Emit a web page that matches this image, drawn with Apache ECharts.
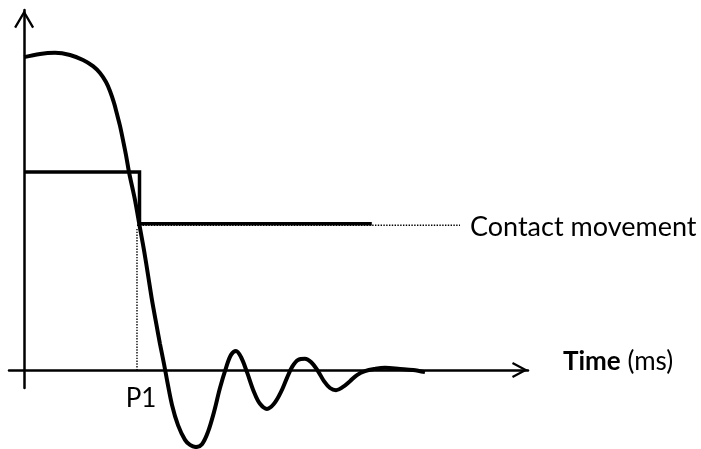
<!DOCTYPE html>
<html>
<head>
<meta charset="utf-8">
<script src="https://cdn.jsdelivr.net/npm/echarts@6/dist/echarts.min.js"></script>
<style>
  html, body { margin: 0; padding: 0; background: #fff; }
  #chart { width: 701px; height: 449px; }
</style>
</head>
<body>
<div id="chart"></div>
<script>
// Time axis in ms (arbitrary units), amplitude in arbitrary units.
const timeMs = [0, 3.15, 6.13, 9.11, 11.69, 13.67, 15.06, 16.25, 17.04, 17.84, 18.43, 19.03,
  19.62, 20.22, 20.81, 21.41, 22.01, 23.0, 23.79, 24.59, 25.38, 26.17, 26.97, 27.76, 28.36,
  29.35, 30.54, 31.93, 32.92, 34.11, 35.3, 36.49, 37.68, 38.87, 40.07, 41.06, 42.05, 43.04,
  44.23, 45.62, 46.81, 48.2, 49.59, 50.98, 52.17, 53.16, 54.35, 55.74, 56.93, 58.32, 59.51,
  60.71, 61.9, 63.28, 64.67, 66.06, 67.65, 69.64, 71.62, 74.6, 77.18, 79.56];
const bounce = [86.9, 87.8, 88.1, 87.5, 86.1, 84.4, 82.5, 80.0, 77.5, 74.2, 71.1, 67.8,
  63.9, 59.7, 55.0, 51.1, 47.2, 39.4, 33.3, 26.4, 19.4, 13.3, 7.2, 1.7, -2.8,
  -9.7, -15.3, -19.4, -20.8, -21.4, -20.6, -17.2, -11.7, -5.0, 0.6, 4.2, 5.3, 3.6,
  -0.6, -6.1, -9.4, -10.8, -9.4, -6.1, -2.2, 0.8, 2.8, 3.1, 2.2, -0.3, -3.1,
  -5.0, -5.6, -4.7, -3.1, -1.4, -0.3, 0.3, 0.6, 0.3, 0, -0.6];

// Contact movement step: high level, drop at P1, low level
const stepTime = [0, 22.9, 22.9, 69.0];
const stepLevel = [55.0, 55.0, 40.6, 40.6];

// P1 marker and leader line to the annotation
const p1Time = 22.4;
const leaderLevel = 40.2;
const leaderEnd = 86.5;
const p1Label = 'P1';
const contactLabel = 'Contact movement';

const zip = (a, b) => a.map((x, i) => [x, b[i]]);

const FONT = 'Lato';
const FS = 27;
const textStyle = { color: '#000000', fontFamily: FONT, fontSize: FS, opacity: 1 };

const chart = echarts.init(document.getElementById('chart'), null, { renderer: 'canvas' });

chart.setOption({
  animation: false,
  backgroundColor: '#ffffff',
  grid: { left: 9, right: 173, top: 10, bottom: 61, containLabel: false },
  xAxis: {
    type: 'value',
    min: -3,
    max: 100,
    name: '{b|Time} (ms)',
    nameLocation: 'end',
    nameGap: 35,
    nameTextStyle: Object.assign({}, textStyle, {
      fontSize: 26,
      padding: [0, 0, 16, 0],
      rich: { b: Object.assign({}, textStyle, { fontSize: 26, fontWeight: 'bold' }) }
    }),
    axisLine: {
      show: true,
      onZero: true,
      lineStyle: { color: '#000', width: 2.5 },
      symbol: ['none', 'path://M8,0 L16,15 L14.06,16.03 L8,4.7 L1.94,16.03 L0,15 Z'],
      symbolSize: [16, 16.03],
      symbolOffset: [0, -8]
    },
    axisTick: { show: false },
    axisLabel: { show: false },
    splitLine: { show: false }
  },
  yAxis: {
    type: 'value',
    min: -5,
    max: 100,
    axisLine: {
      show: true,
      onZero: true,
      lineStyle: { color: '#000', width: 2.5 },
      symbol: ['none', 'path://M10,0 L20,17 L18.02,18.17 L10,4.5 L1.98,18.17 L0,17 Z'],
      symbolSize: [20, 18.17],
      symbolOffset: [0, -9.08]
    },
    axisTick: { show: false },
    axisLabel: { show: false },
    splitLine: { show: false }
  },
  series: [
    {
      // dotted leader from P1 to the annotation text
      type: 'line',
      data: [[p1Time, leaderLevel], [leaderEnd, leaderLevel]],
      symbol: 'none',
      lineStyle: { color: '#000', width: 1.4, type: [1.4, 1.4] },
      z: 1
    },
    {
      // dotted drop line at P1
      type: 'line',
      data: [[p1Time, leaderLevel - 1], [p1Time, 0]],
      symbol: 'none',
      lineStyle: { color: '#000', width: 1.4, type: [1.4, 1.4] },
      z: 1
    },
    {
      type: 'line',
      data: zip(stepTime, stepLevel),
      symbol: 'none',
      lineStyle: { color: '#000', width: 3.5, join: 'miter' },
      z: 3
    },
    {
      type: 'line',
      data: zip(timeMs, bounce),
      symbol: 'none',
      smooth: 0.35,
      clip: false,
      lineStyle: { color: '#000', width: 4 },
      z: 4
    },
    {
      // text annotations anchored to the leader end and the P1 foot
      type: 'scatter',
      symbol: 'circle',
      symbolSize: 0.01,
      itemStyle: { color: '#000' },
      silent: true,
      z: 5,
      data: [
        { value: [leaderEnd, leaderLevel], label: Object.assign({
          show: true, position: 'right', distance: 10, offset: [0, 2], formatter: contactLabel
        }, textStyle) },
        { value: [p1Time, 0], label: Object.assign({
          show: true, position: 'bottom', distance: 16, offset: [4, 0], formatter: p1Label
        }, textStyle, { fontSize: 26 }) }
      ]
    }
  ]
});
</script>
</body>
</html>
